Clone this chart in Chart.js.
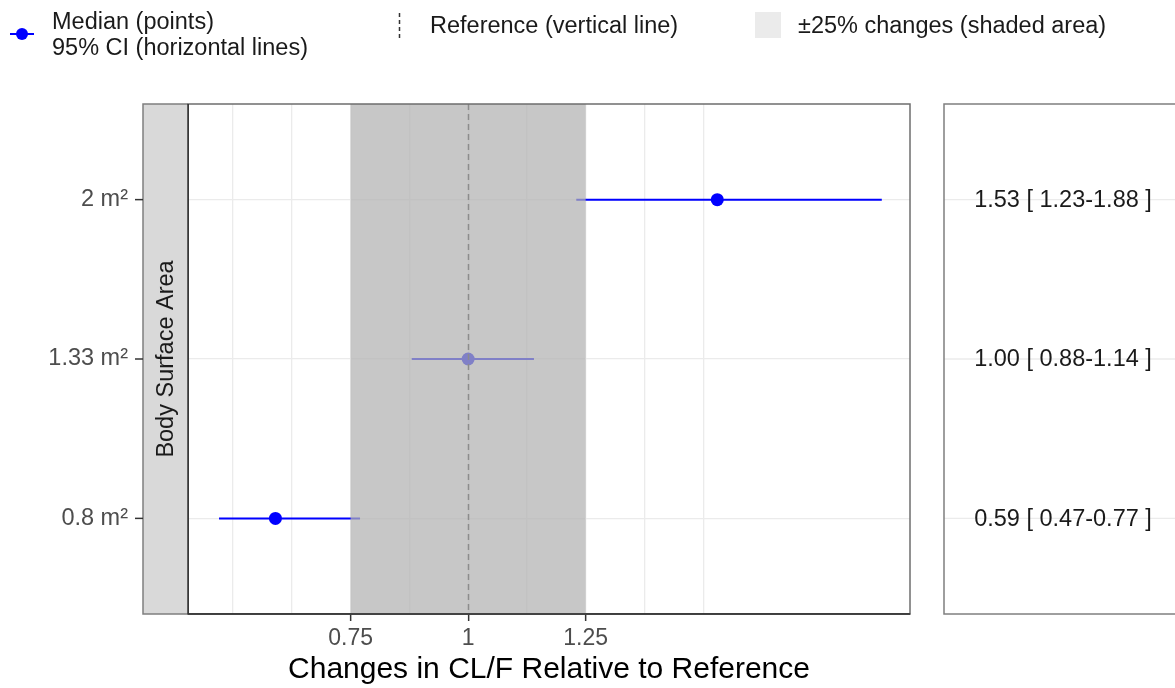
<!DOCTYPE html>
<html>
<head>
<meta charset="utf-8">
<script src="https://cdn.jsdelivr.net/npm/chart.js@4.4.1/dist/chart.umd.min.js"></script>
<style>
  html, body { margin: 0; padding: 0; background: #fff; }
  #wrap { width: 1175px; height: 688px; position: relative; }
</style>
</head>
<body>
<div id="wrap"><canvas id="c" width="1175" height="688"></canvas></div>
<script>
// Covariate levels, listed bottom to top
const categories = ['0.8 m²', '1.33 m²', '2 m²'];
const medians = [0.59, 1.00, 1.53];
const lower = [0.47, 0.88, 1.23];
const upper = [0.77, 1.14, 1.88];

// x-axis breaks: grid lines at every break, labels at a few
const xGridValues = [0.5, 0.625, 0.75, 0.875, 1, 1.125, 1.25, 1.375, 1.5];
const xTickLabels = [0.75, 1, 1.25];

const refValue = 1;
const bandLow = 0.75;
const bandHigh = 1.25;

const stripLabel = 'Body Surface Area';
const xTitle = 'Changes in CL/F Relative to Reference';

const FONT = "'Liberation Sans', Arial, sans-serif";
const BLUE = '#0000ff';

const fmt = v => v.toFixed(2);

const forestPlugin = {
  id: 'forest',
  beforeDatasetsDraw(chart) {
    // 95% CI whiskers
    const { ctx, scales: { x, y }, chartArea: a } = chart;
    ctx.save();
    ctx.beginPath();
    ctx.rect(a.left, a.top, a.right - a.left, a.bottom - a.top);
    ctx.clip();
    ctx.strokeStyle = BLUE;
    ctx.lineWidth = 2;
    categories.forEach((_, i) => {
      const py = y.getPixelForValue(i);
      ctx.beginPath();
      ctx.moveTo(x.getPixelForValue(lower[i]), py);
      ctx.lineTo(x.getPixelForValue(upper[i]), py);
      ctx.stroke();
    });
    ctx.restore();
  },
  afterDatasetsDraw(chart) {
    // ±25% band laid over the marks, then the dashed reference line
    const { ctx, scales: { x }, chartArea: a } = chart;
    ctx.save();
    ctx.beginPath();
    ctx.rect(a.left, a.top, a.right - a.left, a.bottom - a.top);
    ctx.clip();
    const x0 = x.getPixelForValue(bandLow);
    const x1 = x.getPixelForValue(bandHigh);
    ctx.fillStyle = 'rgba(178,178,178,0.72)';
    ctx.fillRect(x0, a.top, x1 - x0, a.bottom - a.top);
    const xr = Math.round(x.getPixelForValue(refValue)) + 0.5;
    ctx.strokeStyle = '#8c8c8c';
    ctx.lineWidth = 1.5;
    ctx.setLineDash([6, 4]);
    ctx.beginPath();
    ctx.moveTo(xr, a.top);
    ctx.lineTo(xr, a.bottom);
    ctx.stroke();
    ctx.restore();
  },
  afterDraw(chart) {
    const { ctx, scales: { y }, chartArea: a } = chart;
    ctx.save();

    // panel frame
    ctx.strokeStyle = '#6e6e6e';
    ctx.lineWidth = 1.5;
    ctx.strokeRect(a.left, a.top, a.right - a.left, a.bottom - a.top);
    ctx.strokeStyle = '#333';
    ctx.beginPath();
    ctx.moveTo(a.left, a.top);
    ctx.lineTo(a.left, a.bottom);
    ctx.lineTo(a.right, a.bottom);
    ctx.stroke();

    // facet strip on the left
    const sx0 = 143;
    ctx.fillStyle = '#d9d9d9';
    ctx.fillRect(sx0, a.top, a.left - sx0, a.bottom - a.top);
    ctx.strokeStyle = '#7f7f7f';
    ctx.lineWidth = 1.5;
    ctx.beginPath();
    ctx.moveTo(a.left, a.top);
    ctx.lineTo(sx0, a.top);
    ctx.lineTo(sx0, a.bottom);
    ctx.lineTo(a.left, a.bottom);
    ctx.stroke();
    ctx.strokeStyle = '#333';
    ctx.beginPath();
    ctx.moveTo(a.left, a.top);
    ctx.lineTo(a.left, a.bottom);
    ctx.stroke();
    ctx.save();
    ctx.translate((sx0 + a.left) / 2 + 1, (a.top + a.bottom) / 2);
    ctx.rotate(-Math.PI / 2);
    ctx.fillStyle = '#1a1a1a';
    ctx.font = `23.5px ${FONT}`;
    ctx.textAlign = 'center';
    ctx.textBaseline = 'middle';
    ctx.fillText(stripLabel, 0, 0);
    ctx.restore();

    // category labels and their tick marks, left of the strip
    ctx.font = `23.5px ${FONT}`;
    ctx.textAlign = 'right';
    ctx.textBaseline = 'middle';
    categories.forEach((lab, i) => {
      const py = y.getPixelForValue(i);
      ctx.fillStyle = '#4d4d4d';
      ctx.fillText(lab, 128, py);
      ctx.strokeStyle = '#333';
      ctx.lineWidth = 1.5;
      ctx.beginPath();
      ctx.moveTo(135, py);
      ctx.lineTo(sx0, py);
      ctx.stroke();
    });

    // value table panel on the right
    const tx0 = 944;
    const tx1 = 1185;
    ctx.strokeStyle = '#ebebeb';
    ctx.lineWidth = 1.3;
    categories.forEach((_, i) => {
      const py = y.getPixelForValue(i);
      ctx.beginPath();
      ctx.moveTo(tx0, py);
      ctx.lineTo(tx1, py);
      ctx.stroke();
    });
    ctx.strokeStyle = '#7f7f7f';
    ctx.lineWidth = 1.5;
    ctx.strokeRect(tx0, a.top, tx1 - tx0, a.bottom - a.top);
    ctx.fillStyle = '#1a1a1a';
    ctx.textAlign = 'center';
    categories.forEach((_, i) => {
      const py = y.getPixelForValue(i);
      ctx.fillText(`${fmt(medians[i])} [ ${fmt(lower[i])}-${fmt(upper[i])} ]`, 1063, py + 1);
    });

    // legend
    ctx.textAlign = 'left';
    ctx.textBaseline = 'alphabetic';
    ctx.fillStyle = '#1a1a1a';
    ctx.strokeStyle = BLUE;
    ctx.lineWidth = 2;
    ctx.beginPath();
    ctx.moveTo(10, 34);
    ctx.lineTo(34, 34);
    ctx.stroke();
    ctx.fillStyle = BLUE;
    ctx.beginPath();
    ctx.arc(22, 34, 6, 0, Math.PI * 2);
    ctx.fill();
    ctx.fillStyle = '#1a1a1a';
    ctx.fillText('Median (points)', 52, 29);
    ctx.fillText('95% CI (horizontal lines)', 52, 55);

    ctx.strokeStyle = '#333';
    ctx.lineWidth = 1.5;
    ctx.setLineDash([4, 3]);
    ctx.beginPath();
    ctx.moveTo(399.5, 13);
    ctx.lineTo(399.5, 39);
    ctx.stroke();
    ctx.setLineDash([]);
    ctx.fillText('Reference (vertical line)', 430, 33);

    ctx.fillStyle = '#ebebeb';
    ctx.fillRect(755, 12, 26, 26);
    ctx.fillStyle = '#1a1a1a';
    ctx.fillText('±25% changes (shaded area)', 798, 33);

    ctx.restore();
  }
};

new Chart(document.getElementById('c'), {
  type: 'scatter',
  data: {
    datasets: [{
      label: 'Median',
      data: medians.map((m, i) => ({ x: m, y: i })),
      backgroundColor: BLUE,
      borderColor: BLUE,
      borderWidth: 0,
      pointRadius: 6.5,
      pointHoverRadius: 6.5
    }]
  },
  options: {
    responsive: false,
    animation: false,
    devicePixelRatio: 1,
    layout: { padding: { left: 188, right: 265, top: 104, bottom: 0 } },
    plugins: { legend: { display: false }, tooltip: { enabled: false } },
    scales: {
      x: {
        type: 'linear',
        min: 0.404,
        max: 1.94,
        afterBuildTicks: s => { s.ticks = xGridValues.map(v => ({ value: v })); },
        afterFit: s => { s.height = 74; },
        ticks: {
          autoSkip: false,
          maxRotation: 0,
          padding: 4,
          color: '#4d4d4d',
          font: { family: FONT, size: 23 },
          callback: v => (xTickLabels.includes(v) ? String(v) : '')
        },
        grid: {
          color: '#ebebeb',
          lineWidth: 1.3,
          tickLength: 7,
          tickWidth: 1.5,
          tickColor: c => (c.tick && xTickLabels.includes(c.tick.value) ? '#333' : 'rgba(0,0,0,0)')
        },
        border: { color: '#333', width: 1.5 },
        title: {
          display: true,
          text: xTitle,
          color: '#000',
          font: { family: FONT, size: 30 },
          padding: { top: 0, bottom: 0 }
        }
      },
      y: {
        type: 'linear',
        min: -0.6,
        max: 2.6,
        afterBuildTicks: s => { s.ticks = categories.map((_, i) => ({ value: i })); },
        afterFit: s => { s.width = 0; },
        ticks: { display: false },
        grid: { color: '#ebebeb', lineWidth: 1.3, drawTicks: false },
        border: { display: false }
      }
    }
  },
  plugins: [forestPlugin]
});
</script>
</body>
</html>
